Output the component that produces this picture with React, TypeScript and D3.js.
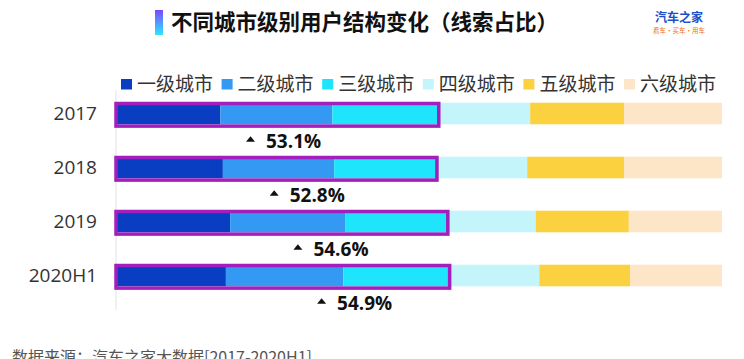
import * as d3 from "d3";

const years = ["2017", "2018", "2019", "2020H1"];
const tiers = ["一级城市", "二级城市", "三级城市", "四级城市", "五级城市", "六级城市"];
const tierColors = ["#0a3ec2", "#3399f3", "#1ee5fb", "#c3f5fa", "#fcd13f", "#fde6c8"];

// share of leads per tier, %
const tier1 = [17.1, 17.5, 18.7, 18.0];
const tier2 = [18.5, 18.4, 19.0, 19.4];
const tier3 = [17.5, 16.9, 16.9, 17.5];
const tier4 = [15.2, 15.0, 14.6, 14.9];
const tier5 = [15.5, 16.0, 15.4, 15.0];
const tier6 = [16.2, 16.2, 15.4, 15.2];
const top3Labels = ["53.1%", "52.8%", "54.6%", "54.9%"];

const width = 744;
const height = 359;
const font = "'Open Sans', 'Noto Sans CJK SC', sans-serif";
const cjk = "'Noto Sans CJK SC', sans-serif";

const App = () => {
  const series = [tier1, tier2, tier3, tier4, tier5, tier6];
  const rows = years.map((year, i) => {
    let acc = 0;
    const segs = series.map((s, k) => {
      const x0 = acc;
      acc += s[i];
      return { k, x0, x1: acc };
    });
    return { year, segs, top3: segs[2].x1 };
  });

  const x = d3.scaleLinear().domain([0, 100]).range([117, 722]);
  const y = d3
    .scaleBand<string>()
    .domain(years)
    .range([86.5, 302.5])
    .paddingInner(0.6)
    .paddingOuter(0.3);
  const bw = y.bandwidth();

  const legendX = d3.scaleLinear().domain([0, tiers.length - 1]).range([121, 624]);

  const tri = d3.path();
  tri.moveTo(-4.5, 2.5);
  tri.lineTo(4.5, 2.5);
  tri.lineTo(0, -3);
  tri.closePath();

  return (
    <svg
      width={width}
      height={height}
      style={{ position: "absolute", left: 0, top: 0, background: "#fff" }}
    >
      <defs>
        <linearGradient id="titleBar" x1="0" y1="0" x2="0" y2="1">
          <stop offset="0%" stopColor="#7a48ff" />
          <stop offset="100%" stopColor="#2ee8ff" />
        </linearGradient>
      </defs>

      {/* title */}
      <rect x={155} y={10} width={8} height={25} fill="url(#titleBar)" />
      <text x={171} y={30} fontFamily={cjk} fontWeight="bold" fontSize={21.5} fill="#111">
        不同城市级别用户结构变化（线索占比）
      </text>

      {/* logo */}
      <text x={679} y={22} textAnchor="middle" fontFamily={cjk} fontWeight="bold" fontSize={12} fill="#1b4fc9">
        汽车之家
      </text>
      <text x={679} y={32.5} textAnchor="middle" fontFamily={cjk} fontSize={6.5} fill="#f0701e">
        看车·买车·用车
      </text>

      {/* legend */}
      {tiers.map((t, k) => (
        <g key={t} transform={`translate(${legendX(k)},0)`}>
          <rect x={0} y={79} width={11} height={10.5} fill={tierColors[k]} />
          <text x={16} y={91} fontFamily={cjk} fontSize={19} fill="#333">
            {t}
          </text>
        </g>
      ))}

      {/* axis line */}
      <line x1={116} x2={116} y1={90} y2={310} stroke="#e2e2e2" strokeWidth={1} />

      {rows.map((r, i) => {
        const yy = y(r.year) ?? 0;
        const labelStart = 266 + i * 23.7;
        return (
          <g key={r.year}>
            <text
              x={97}
              y={yy + bw / 2}
              dy="0.35em"
              textAnchor="end"
              fontFamily={font}
              fontSize={19}
              fill="#333"
            >
              {r.year}
            </text>
            {r.segs.map((s) => (
              <rect
                key={s.k}
                x={x(s.x0)}
                y={yy}
                width={x(s.x1) - x(s.x0)}
                height={bw}
                fill={tierColors[s.k]}
              />
            ))}
            <rect
              x={x(0) - 1}
              y={yy + 0.8}
              width={x(r.top3) - x(0) + 1.5}
              height={bw + 1}
              fill="none"
              stroke="#a21fbd"
              strokeWidth={3.5}
            />
            <path
              d={tri.toString()}
              transform={`translate(${labelStart - 15.5},${yy + bw + 15})`}
              fill="#111"
            />
            <text
              x={labelStart}
              y={yy + bw + 23.5}
              fontFamily={font}
              fontWeight="bold"
              fontSize={19}
              fill="#111"
            >
              {top3Labels[i]}
            </text>
          </g>
        );
      })}

      {/* source */}
      <text x={12} y={363} fontFamily={cjk} fontSize={16} fill="#555">
        数据来源：汽车之家大数据[2017-2020H1]
      </text>
    </svg>
  );
};

export default App;
